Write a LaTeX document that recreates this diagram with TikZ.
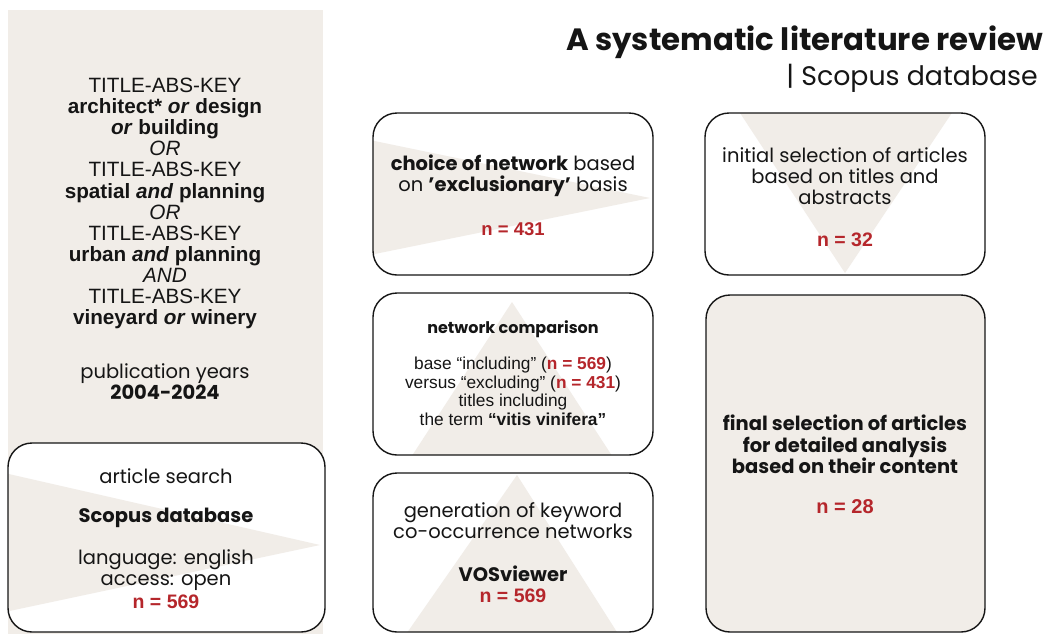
\documentclass[tikz,border=0pt]{standalone}
\usepackage{fontspec}
\setmainfont{Poppins}
\newfontfamily\arialf{Liberation Sans}
\definecolor{beige}{HTML}{F1EDE8}
\definecolor{nred}{HTML}{B5262B}
\definecolor{ink}{HTML}{151515}
\begin{document}
\begin{tikzpicture}[x=1pt,y=-1pt,
  box/.style={draw=ink, line width=1.4pt, rounded corners=24pt, fill=white, inner sep=0pt},
  tri/.style={fill=beige, draw=none, sharp corners},
  txt/.style={text=ink, align=center, inner sep=0pt},
  pop/.style={txt, font=\fontsize{19.5}{21}\selectfont},
  popb/.style={txt, font=\bfseries\fontsize{19.5}{21.5}\selectfont},
  ari/.style={txt, font=\arialf\fontsize{20.7}{21.1}\selectfont},
  ari2/.style={txt, font=\arialf\fontsize{17.3}{18.5}\selectfont},
  num/.style={txt, text=nred, font=\arialf\bfseries\fontsize{19.5}{21}\selectfont}
]
\useasboundingbox (0,0) rectangle (1046,633);
\newcommand{\nr}[1]{\textcolor{nred}{\textbf{#1}}}
\newcommand{\sq}{{\char"0027}}
% triangle corner points
\coordinate (sa) at (0,472);   \coordinate (sb) at (320,545); \coordinate (sc) at (0,613);
\coordinate (ca) at (360,138); \coordinate (cb) at (650,198); \coordinate (cc) at (360,257);
\coordinate (ma) at (512,302); \coordinate (mb) at (624.5,475); \coordinate (mc) at (399.5,475);
\coordinate (ga) at (517,475); \coordinate (gb) at (622,640); \coordinate (gc) at (402,640);
\coordinate (ia) at (731.5,100); \coordinate (ib) at (960.5,100); \coordinate (ic) at (845,273);
% left background panel
\fill[beige] (8,10) rectangle (323,640);
% title
\node[txt, anchor=east, font=\bfseries\fontsize{30.8}{33}\selectfont] (title) at (1043,42) {A systematic literature review};
\node[txt, anchor=east, font=\fontsize{26.8}{29}\selectfont] (subtitle) at (1038,78) {| Scopus database};
% left query text
\node[ari] (query) at (165,203.5) {TITLE-ABS-KEY\\
\textbf{architect* \textit{or} design}\\
\textbf{\textit{or} building}\\
\textit{OR}\\
TITLE-ABS-KEY\\
\textbf{spatial \textit{and} planning}\\
\textit{OR}\\
TITLE-ABS-KEY\\
\textbf{urban \textit{and} planning}\\
\textit{AND}\\
TITLE-ABS-KEY\\
\textbf{vineyard \textit{or} winery}};
\node[pop] (years) at (165,382) {publication years\\\textbf{2004-2024}};
% boxes
\node[box, minimum width=317pt, minimum height=189pt,
  path picture={\path[tri] (sa) -- (sb) -- (sc) -- cycle;}] (search) at (166.5,537.5) {};
\node[box, minimum width=280pt, minimum height=162pt,
  path picture={\path[tri] (ca) -- (cb) -- (cc) -- cycle;}] (choice) at (513,194) {};
\node[box, minimum width=280pt, minimum height=162pt,
  path picture={\path[tri] (ma) -- (mb) -- (mc) -- cycle;}] (compare) at (513,374) {};
\node[box, minimum width=280pt, minimum height=159pt,
  path picture={\path[tri] (ga) -- (gb) -- (gc) -- cycle;}] (gen) at (513,552.5) {};
\node[box, minimum width=280pt, minimum height=162pt,
  path picture={\path[tri] (ia) -- (ib) -- (ic) -- cycle;}] (initial) at (845,194) {};
\node[box, fill=beige, minimum width=279pt, minimum height=337pt] (final) at (845.5,463.5) {};
% search box text
\node[pop] (s1) at (166,476) {article search};
\node[popb] (s2) at (166,518) {Scopus database};
\node[pop] (s3) at (166,570) {language: english\\access: open};
\node[num] (s4) at (166,602) {n = 569};
% choice box text
\node[pop] (c1) at (513,175.5) {\textbf{choice of network} based\\on \textbf{\sq exclusionary\sq} basis};
\node[num, font=\arialf\bfseries\fontsize{18.5}{21}\selectfont] (c2) at (513,229) {n = 431};
% comparison box text
\node[txt, font=\bfseries\fontsize{16}{19}\selectfont] (m1) at (513,329) {network comparison};
\node[ari2] (m2) at (513,391.5) {base “including” (\nr{n = 569})\\
versus “excluding” (\nr{n = 431})\\
titles including\\
the term \textbf{“vitis vinifera”}};
% generation box text
\node[pop] (g1) at (513,520.5) {generation of keyword\\co-occurrence networks};
\node[popb] (g2) at (513,584.5) {VOSviewer\\{\arialf\color{nred}n = 569}};
% initial box text
\node[pop] (i1) at (845,176) {initial selection of articles\\based on titles and\\abstracts};
\node[num] (i2) at (845,240) {n = 32};
% final box text
\node[popb] (f1) at (845,444.5) {final selection of articles\\for detailed analysis\\based on their content};
\node[num, font=\arialf\bfseries\fontsize{20}{21}\selectfont] (f2) at (845,507) {n = 28};
\end{tikzpicture}
\end{document}
